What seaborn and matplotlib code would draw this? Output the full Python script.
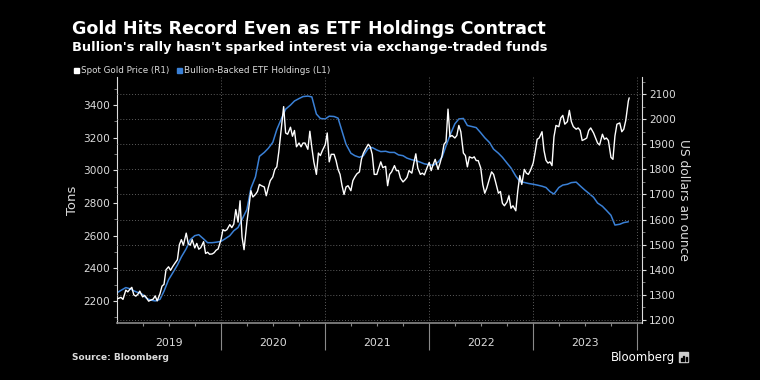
import pandas as pd
import matplotlib
matplotlib.use("Agg")
import matplotlib.pyplot as plt
import matplotlib.dates as mdates
from matplotlib.patches import Rectangle
from matplotlib.ticker import MultipleLocator, FixedLocator, NullFormatter, FuncFormatter
import seaborn as sns

# Bullion-backed ETF holdings, tons (1st and 15th of each month)
etf_2019 = [2250, 2265, 2282, 2275, 2262, 2252, 2240, 2215, 2205, 2200, 2210, 2260,
            2330, 2370, 2420, 2470, 2520, 2575, 2600, 2606, 2580, 2557, 2557, 2560]
etf_2020 = [2565, 2580, 2600, 2630, 2650, 2700, 2760, 2890, 2960, 3086, 3110, 3135,
            3172, 3250, 3320, 3375, 3400, 3425, 3440, 3452, 3455, 3450, 3345, 3318]
etf_2021 = [3315, 3332, 3330, 3320, 3240, 3160, 3105, 3090, 3080, 3090, 3135, 3140,
            3125, 3115, 3117, 3110, 3110, 3095, 3090, 3075, 3065, 3060, 3050, 3040]
etf_2022 = [3035, 3031, 3050, 3080, 3150, 3215, 3285, 3315, 3318, 3275, 3268, 3262,
            3230, 3200, 3170, 3130, 3105, 3080, 3045, 3015, 2965, 2932, 2926, 2920]
etf_2023 = [2915, 2910, 2903, 2895, 2870, 2855, 2895, 2910, 2915, 2925, 2928, 2905,
            2880, 2860, 2835, 2800, 2780, 2755, 2725, 2665, 2670, 2680, 2685]

# Spot gold, USD an ounce (1st, 8th, 15th, 22nd of each month)
gold_2019 = [1284, 1287, 1290, 1282, 1319, 1312, 1322, 1330, 1300, 1295, 1302, 1315,
             1292, 1298, 1288, 1275, 1280, 1283, 1296, 1276, 1305, 1335, 1342, 1400,
             1412, 1398, 1412, 1424, 1440, 1500, 1520, 1498, 1546, 1505, 1498, 1520,
             1487, 1505, 1482, 1488, 1512, 1465, 1470, 1462, 1463, 1468, 1478, 1483]
gold_2020 = [1520, 1560, 1555, 1560, 1580, 1568, 1582, 1640, 1590, 1675, 1530, 1480,
             1590, 1650, 1715, 1690, 1700, 1712, 1740, 1735, 1730, 1695, 1727, 1755,
             1770, 1800, 1810, 1870, 1975, 2050, 1945, 1940, 1968, 1932, 1955, 1890,
             1905, 1890, 1905, 1905, 1880, 1952, 1886, 1830, 1780, 1865, 1855, 1875]
gold_2021 = [1898, 1945, 1830, 1860, 1860, 1835, 1800, 1780, 1735, 1700, 1730, 1735,
             1715, 1755, 1770, 1782, 1790, 1840, 1865, 1880, 1900, 1890, 1860, 1780,
             1780, 1805, 1830, 1807, 1812, 1735, 1780, 1790, 1815, 1795, 1795, 1765,
             1750, 1758, 1768, 1795, 1785, 1825, 1862, 1805, 1780, 1785, 1778, 1800]
gold_2022 = [1828, 1795, 1820, 1840, 1800, 1825, 1855, 1900, 1910, 2040, 1930, 1935,
             1925, 1935, 1975, 1950, 1865, 1855, 1810, 1850, 1845, 1850, 1835, 1835,
             1805, 1740, 1705, 1725, 1765, 1790, 1780, 1750, 1705, 1712, 1665, 1655,
             1670, 1695, 1645, 1655, 1635, 1715, 1775, 1740, 1800, 1785, 1780, 1795]
gold_2023 = [1825, 1870, 1920, 1925, 1950, 1875, 1836, 1825, 1830, 1815, 1930, 1975,
             1970, 2005, 2015, 1980, 1990, 2035, 1990, 1970, 1960, 1965, 1955, 1915,
             1920, 1925, 1955, 1965, 1945, 1925, 1905, 1897, 1940, 1920, 1925, 1915,
             1848, 1840, 1933, 1980, 1985, 1950, 1960, 1995]
gold_dec_2023 = [2072, 2085]
gold_dec_dates = ["2023-12-01", "2023-12-04"]

etf_tons = etf_2019 + etf_2020 + etf_2021 + etf_2022 + etf_2023
etf = pd.DataFrame({
    "date": pd.date_range("2019-01-01", periods=len(etf_tons), freq="SMS"),
    "tons": etf_tons,
})

gold_usd = gold_2019 + gold_2020 + gold_2021 + gold_2022 + gold_2023 + gold_dec_2023
grid = [f"{y}-{m:02d}-{d:02d}" for y in range(2019, 2024)
        for m in range(1, 13) for d in (1, 8, 15, 22)]
gold = pd.DataFrame({
    "date": pd.to_datetime(grid[:len(gold_usd) - 2] + gold_dec_dates),
    "usd": gold_usd,
})

sns.set_theme(style="dark")
plt.rcParams["font.family"] = ["DejaVu Sans"]

BG = "#000000"
TXT = "#dcdcdc"
GRID = "#5e5e5e"
AXC = "#8a8a8a"
BLUE = "#3a80d6"

fig = plt.figure(figsize=(7.6, 3.8), dpi=100, facecolor=BG)
ax = fig.add_axes([117 / 760, 1 - 323 / 380, (642 - 117) / 760, (323 - 77) / 380])
ax.set_facecolor(BG)
ax2 = ax.twinx()

sns.lineplot(data=etf, x="date", y="tons", ax=ax, color=BLUE, linewidth=1.1)
sns.lineplot(data=gold, x="date", y="usd", ax=ax2, color="white", linewidth=1.0)

ax.set_xlim(pd.Timestamp("2019-01-01"), pd.Timestamp("2024-01-18"))
ax.set_ylim(2065, 3572)
ax2.set_ylim(1188, 2168)

# left axis: tons
ax.yaxis.set_major_locator(MultipleLocator(200))
ax.yaxis.set_minor_locator(MultipleLocator(100))
ax.tick_params(axis="y", which="both", left=True, right=False)
ax.tick_params(axis="y", which="major", length=3, width=0.8, color=TXT,
               labelcolor=TXT, labelsize=7.6, pad=2)
ax.tick_params(axis="y", which="minor", length=2, width=0.6, color=AXC)
ax.set_ylabel("Tons", color=TXT, fontsize=9.5, labelpad=3)

# right axis: dollars
ax2.set_yticks(range(1200, 2101, 100))
ax2.yaxis.set_minor_locator(MultipleLocator(50))
ax2.tick_params(axis="y", which="both", right=True, left=False)
ax2.tick_params(axis="y", which="major", length=3, width=0.8, color=TXT,
                labelcolor=TXT, labelsize=7.6, pad=2)
ax2.tick_params(axis="y", which="minor", length=2, width=0.6, color=AXC)
ax2.set_ylabel("US dollars an ounce", color=TXT, fontsize=8.8, rotation=270,
               labelpad=10)

# bottom axis: year separators, quarter ticks, labels mid-year
years = [mdates.date2num(pd.Timestamp(f"{y}-01-01")) for y in range(2020, 2025)]
ax.xaxis.set_major_locator(FixedLocator(years))
ax.xaxis.set_major_formatter(NullFormatter())
ax.xaxis.set_minor_locator(mdates.MonthLocator(bymonth=[4, 7, 10]))
ax.xaxis.set_minor_formatter(FuncFormatter(
    lambda v, p: str(mdates.num2date(v).year) if mdates.num2date(v).month == 7 else ""))
ax.tick_params(axis="x", which="both", bottom=True, top=False)
ax.tick_params(axis="x", which="major", length=19.5, width=0.8, color=AXC)
ax.tick_params(axis="x", which="minor", length=2.5, width=0.8, color=AXC,
               labelcolor=TXT, labelsize=7.8, pad=8)
ax.set_xlabel("")
ax2.set_xlabel("")

ax.grid(False)
ax2.grid(False)
ax.grid(axis="x", which="major", linestyle=(0, (1, 2)), color=GRID, linewidth=0.7)
ax2.grid(axis="y", which="major", linestyle=(0, (1, 2)), color=GRID, linewidth=0.7)

for a in (ax, ax2):
    for s in a.spines.values():
        s.set_visible(False)
ax.spines["left"].set_visible(True)
ax.spines["left"].set_color(TXT)
ax.spines["left"].set_linewidth(0.8)
ax.spines["bottom"].set_visible(True)
ax.spines["bottom"].set_color(AXC)
ax.spines["bottom"].set_linewidth(1.2)
ax2.spines["right"].set_visible(True)
ax2.spines["right"].set_color(TXT)
ax2.spines["right"].set_linewidth(0.8)

# titles
fig.text(72 / 760, 1 - 29 / 380, "Gold Hits Record Even as ETF Holdings Contract",
         color="white", fontsize=12.6, fontweight="bold", va="center", ha="left")
fig.text(72 / 760, 1 - 48 / 380,
         "Bullion's rally hasn't sparked interest via exchange-traded funds",
         color="white", fontsize=9.35, fontweight="bold", va="center", ha="left")

# legend
fig.patches.append(Rectangle((74 / 760, 1 - 73 / 380), 5 / 760, 5 / 380,
                             transform=fig.transFigure, color="white"))
fig.text(81 / 760, 1 - 70.5 / 380, "Spot Gold Price (R1)", color=TXT,
         fontsize=6.3, va="center", ha="left")
fig.patches.append(Rectangle((177 / 760, 1 - 73 / 380), 5 / 760, 5 / 380,
                             transform=fig.transFigure, color=BLUE))
fig.text(184 / 760, 1 - 70.5 / 380, "Bullion-Backed ETF Holdings (L1)", color=TXT,
         fontsize=6.4, va="center", ha="left")

# footer
fig.text(72 / 760, 1 - 357 / 380, "Source: Bloomberg", color=TXT, fontsize=6.5,
         fontweight="bold", va="center", ha="left")
fig.text(675 / 760, 1 - 357 / 380, "Bloomberg", color="white", fontsize=8.5,
         va="center", ha="right")
fig.patches.append(Rectangle((679 / 760, 1 - 362 / 380), 9 / 760, 10 / 380,
                             transform=fig.transFigure, color="#cccccc"))
for bx, bh in ((681, 3), (683.3, 5), (685.6, 4)):
    fig.patches.append(Rectangle((bx / 760, 1 - 361 / 380), 1.2 / 760, bh / 380,
                                 transform=fig.transFigure, color=BG))

fig.savefig("out.png", dpi=100, facecolor=BG)
